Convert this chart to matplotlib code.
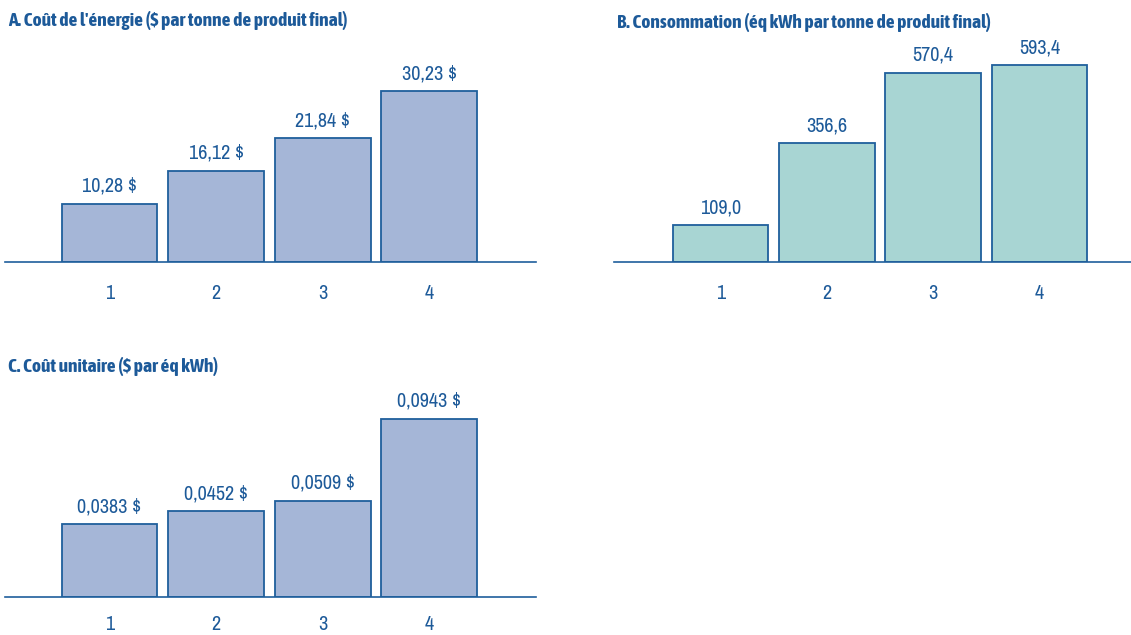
import matplotlib
matplotlib.use('Agg')
import matplotlib.pyplot as plt

plt.rcParams['font.family'] = ['Archivo Narrow', 'DejaVu Sans']

categories = ['1', '2', '3', '4']

cout_energie = [10.28, 16.12, 21.84, 30.23]
cout_labels = ['10,28 $', '16,12 $', '21,84 $', '30,23 $']

consommation = [109.0, 356.6, 570.4, 593.4]
conso_labels = ['109,0', '356,6', '570,4', '593,4']

cout_unitaire = [0.0383, 0.0452, 0.0509, 0.0943]
unit_labels = ['0,0383 $', '0,0452 $', '0,0509 $', '0,0943 $']

titles = ["A. Coût de l'énergie ($ par tonne de produit final)",
          "B. Consommation (éq kWh par tonne de produit final)",
          "C. Coût unitaire ($ par éq kWh)"]

W, H = 1131, 635
edge = '#1f5f9c'
text_col = '#1d5a99'
fill_blue = '#a5b6d7'
fill_teal = '#a8d5d3'

fig = plt.figure(figsize=(W / 100, H / 100), dpi=100)


# axes placed in pixel coords (top-left origin)
def make_axes(x0, x1, y_top, y_base):
    return fig.add_axes([x0 / W, 1 - y_base / H, (x1 - x0) / W, (y_base - y_top) / H])


def bar_panel(ax, values, labels, color, ymax, xlim, pad=16):
    xs = range(1, len(values) + 1)
    ax.bar(xs, values, width=0.9, color=color, edgecolor=edge, linewidth=1.3)
    for x, v, lab in zip(xs, values, labels):
        ax.annotate(lab, (x, v), xytext=(0, 8.5), textcoords='offset points',
                    ha='center', va='baseline', fontsize=14.5, color=text_col)
    ax.set_xlim(*xlim)
    ax.set_ylim(0, ymax)
    ax.set_xticks(list(xs))
    ax.set_xticklabels(categories)
    ax.tick_params(axis='x', length=0, pad=pad, labelsize=14.5, labelcolor=text_col)
    ax.set_yticks([])
    for s in ['top', 'left', 'right']:
        ax.spines[s].set_visible(False)
    ax.spines['bottom'].set_color(edge)
    ax.spines['bottom'].set_linewidth(1.2)
    ax.patch.set_alpha(0)


ax_a = make_axes(5, 536, 40, 261.5)
bar_panel(ax_a, cout_energie, cout_labels, fill_blue, 39.3, (0.02, 5.0))

ax_b = make_axes(614, 1146, 40, 261.5)
bar_panel(ax_b, consommation, conso_labels, fill_teal, 669, (0.0, 5.0))

ax_c = make_axes(5, 536, 375, 596.5)
bar_panel(ax_c, cout_unitaire, unit_labels, fill_blue, 0.1175, (0.02, 5.0), pad=13)

# panel titles
for (x, y), t in zip([(8, 20), (617, 22.5), (8, 367)], titles):
    fig.text(x / W, 1 - y / H, t, ha='left', va='center', fontsize=14,
             fontweight='bold', color=text_col,
             family=['Asap Condensed', 'DejaVu Sans'])

fig.savefig('out.png', dpi=100)
